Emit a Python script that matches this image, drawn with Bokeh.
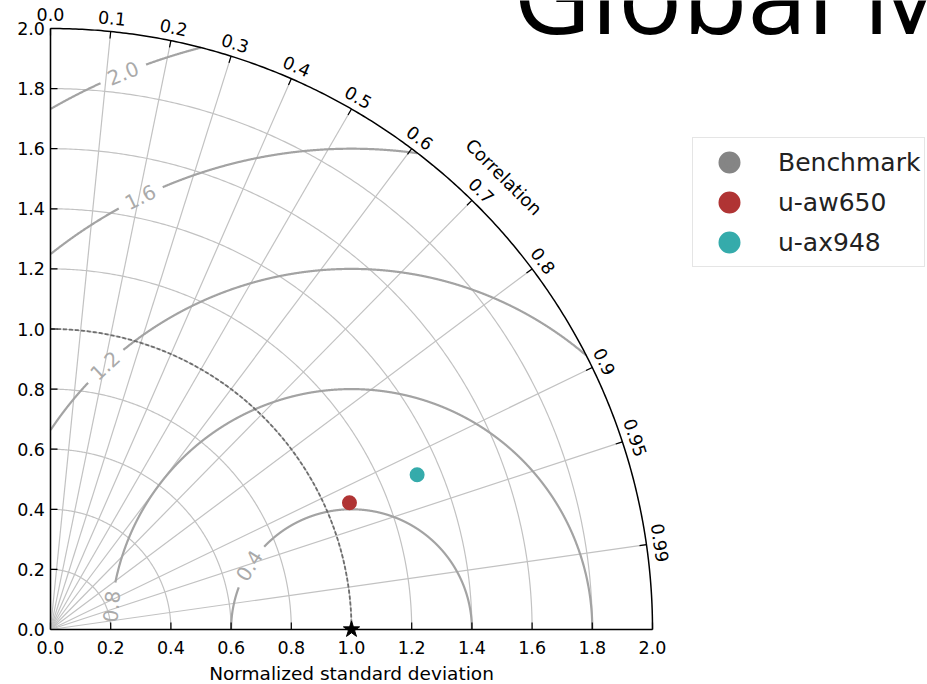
import numpy as np
from bokeh.plotting import figure
from bokeh.models import Range1d, Label, Legend, LegendItem
from bokeh.core.properties import value
from bokeh.embed import file_html
from bokeh.resources import INLINE

# ---------------- data ----------------
MODELS = ["Benchmark", "u-aw650", "u-ax948"]
STDDEV = [1.0, 1.079, 1.3225]
CORRELATION = [1.0, 0.9205, 0.921]
MODEL_COLORS = ["#858585", "#b03434", "#35abab"]

STD_TICKS = [0.0, 0.2, 0.4, 0.6, 0.8, 1.0, 1.2, 1.4, 1.6, 1.8, 2.0]
STD_TICK_LABELS = ["0.0", "0.2", "0.4", "0.6", "0.8", "1.0", "1.2", "1.4",
                   "1.6", "1.8", "2.0"]
STD_GRID = [0.2, 0.4, 0.6, 0.8, 1.0, 1.2, 1.4, 1.6, 1.8]
CORR_TICKS = [0.0, 0.1, 0.2, 0.3, 0.4, 0.5, 0.6, 0.7, 0.8, 0.9, 0.95, 0.99]
CORR_LABELS = ["0.0", "0.1", "0.2", "0.3", "0.4", "0.5", "0.6", "0.7",
               "0.8", "0.9", "0.95", "0.99"]
RMS_LEVELS = [0.4, 0.8, 1.2, 1.6, 2.0]
RMS_LABELS = ["0.4", "0.8", "1.2", "1.6", "2.0"]
RMS_LABEL_PHI = [148.0, 174.5, 133.0, 116.0, 112.3]   # label placement (deg)
REF_STD = 1.0
SMAX = 2.0

TITLE = "Global M"
X_LABEL = "Normalized standard deviation"
CORR_TITLE = "Correlation"

# ---------------- layout ----------------
W, H = 927, 684
PX = 301.0
PY = 300.5
X_ZERO_PX = 50
Y_ZERO_PX = 629
X0 = -X_ZERO_PX / PX
X1 = (W - X_ZERO_PX) / PX
Y1 = Y_ZERO_PX / PY
Y0 = -(H - Y_ZERO_PX) / PY

p = figure(width=W, height=H, x_range=Range1d(X0, X1), y_range=Range1d(Y0, Y1),
           output_backend="svg", toolbar_location=None,
           x_axis_location=None, y_axis_location=None,
           min_border_left=0, min_border_right=0, min_border_top=0,
           min_border_bottom=0)
p.outline_line_color = None
p.grid.visible = False
p.background_fill_color = "white"
p.border_fill_color = "white"

FONT = "DejaVu Sans"
TICK_FS = "17.5px"
GRID_C = "#c2c2c2"
CONT_C = "#a3a3a3"
TICK_LEN = 7

# std-dev grid arcs
th = np.linspace(0, np.pi / 2, 300)
p.multi_line(xs=[list(r * np.cos(th)) for r in STD_GRID],
             ys=[list(r * np.sin(th)) for r in STD_GRID],
             line_color=GRID_C, line_width=1.2)

# correlation grid lines
ang = np.arccos(np.array(CORR_TICKS))
p.segment(x0=np.zeros(len(ang)), y0=np.zeros(len(ang)),
          x1=SMAX * np.cos(ang), y1=SMAX * np.sin(ang),
          line_color=GRID_C, line_width=1.2)

# centred RMS difference contours
GAP = 0.08
cx, cy = [], []
lx, ly, la = [], [], []
for rms, phl in zip(RMS_LEVELS, RMS_LABEL_PHI):
    phi = np.linspace(0, np.pi, 3000)
    x = REF_STD + rms * np.cos(phi)
    y = rms * np.sin(phi)
    ph0 = np.deg2rad(phl)
    mask = (x >= 0) & (x ** 2 + y ** 2 <= SMAX ** 2) & (np.abs(phi - ph0) * rms > GAP)
    idx = np.where(mask)[0]
    if len(idx):
        runs = np.split(idx, np.where(np.diff(idx) != 1)[0] + 1)
        for run in runs:
            if len(run) > 1:
                cx.append(list(x[run]))
                cy.append(list(y[run]))
    lx.append(REF_STD + rms * np.cos(ph0))
    ly.append(rms * np.sin(ph0))
    la.append(ph0 - np.pi / 2)
p.multi_line(xs=cx, ys=cy, line_color=CONT_C, line_width=2.2)
p.text(x=lx, y=ly, text=RMS_LABELS, angle=la, text_align="center",
       text_baseline="middle", text_color="#aaaaaa",
       text_font=value(FONT), text_font_size="20px")

# reference std arc (dashed)
p.line(x=REF_STD * np.cos(th), y=REF_STD * np.sin(th), line_color="#6e6e6e",
       line_width=1.8, line_dash="4 2")

# std-dev axes (horizontal and vertical) drawn in data space
st = np.array(STD_TICKS)
zeros = np.zeros(len(st))
p.segment(x0=[0.0, 0.0], y0=[0.0, 0.0], x1=[SMAX, 0.0], y1=[0.0, SMAX],
          line_color="black", line_width=1.5)
p.segment(x0=st, y0=zeros, x1=st, y1=np.full(len(st), TICK_LEN / PY),
          line_color="black", line_width=1.2)
p.segment(x0=zeros, y0=st, x1=np.full(len(st), TICK_LEN / PX), y1=st,
          line_color="black", line_width=1.2)
p.text(x=st, y=np.full(len(st), -17.7 / PY), text=STD_TICK_LABELS,
       text_align="center", text_baseline="middle", text_color="black",
       text_font=value(FONT), text_font_size=TICK_FS)
p.text(x=np.full(len(st), -5.5 / PX), y=st, text=STD_TICK_LABELS,
       text_align="right", text_baseline="middle", text_color="black",
       text_font=value(FONT), text_font_size=TICK_FS)
p.text(x=[REF_STD], y=[-43.5 / PY], text=[X_LABEL], text_align="center",
       text_baseline="middle", text_color="black", text_font=value(FONT),
       text_font_size="18.5px")

# outer boundary arc + correlation ticks
p.line(x=SMAX * np.cos(th), y=SMAX * np.sin(th), line_color="black", line_width=1.5)
tick_len = TICK_LEN / PX
p.segment(x0=SMAX * np.cos(ang), y0=SMAX * np.sin(ang),
          x1=(SMAX - tick_len) * np.cos(ang), y1=(SMAX - tick_len) * np.sin(ang),
          line_color="black", line_width=1.2)
RL = 2.045
p.text(x=RL * np.cos(ang), y=RL * np.sin(ang), text=CORR_LABELS,
       angle=ang - np.pi / 2, text_align="center", text_baseline="middle",
       text_color="black", text_font=value(FONT), text_font_size=TICK_FS)
ct = np.deg2rad(45.0)
p.text(x=[2.13 * np.cos(ct)], y=[2.13 * np.sin(ct)], text=[CORR_TITLE],
       angle=-np.pi / 4, text_align="center", text_baseline="middle",
       text_font=value(FONT), text_font_size="18px", text_color="black")

# model points
std = np.array(STDDEV)
cor = np.array(CORRELATION)
px = std * cor
py = std * np.sqrt(np.clip(1 - cor ** 2, 0, None))
rends = []
for i, m in enumerate(MODELS):
    sz = 1 if i == 0 else 9
    r = p.scatter(x=[px[i]], y=[py[i]], size=sz, marker="circle",
                  fill_color=MODEL_COLORS[i], line_color=MODEL_COLORS[i],
                  line_width=6)
    rends.append(r)

# reference star
p.scatter(x=[REF_STD], y=[0.0], marker="star", size=17, fill_color="black",
          line_color="black")

# title (partly outside the window, as in the original page)
p.add_layout(Label(x=1.537, y=(Y_ZERO_PX + 8) / PY, text=TITLE, text_align="left",
                   text_baseline="middle", text_font="Open Sans",
                   text_font_size="107px", text_color="black"))

legend = Legend(items=[LegendItem(label=m, renderers=[rends[i]])
                       for i, m in enumerate(MODELS)],
                location=(642 + X_ZERO_PX, 417), orientation="vertical",
                glyph_width=64, glyph_height=40, spacing=0, padding=4,
                label_standoff=17, margin=0,
                label_text_font=FONT, label_text_font_size="25px",
                label_text_color="#222222",
                border_line_color="#cccccc", border_line_width=1,
                background_fill_color="white", background_fill_alpha=1.0)
p.add_layout(legend)

open("out.html", "w").write(file_html(p, INLINE))
